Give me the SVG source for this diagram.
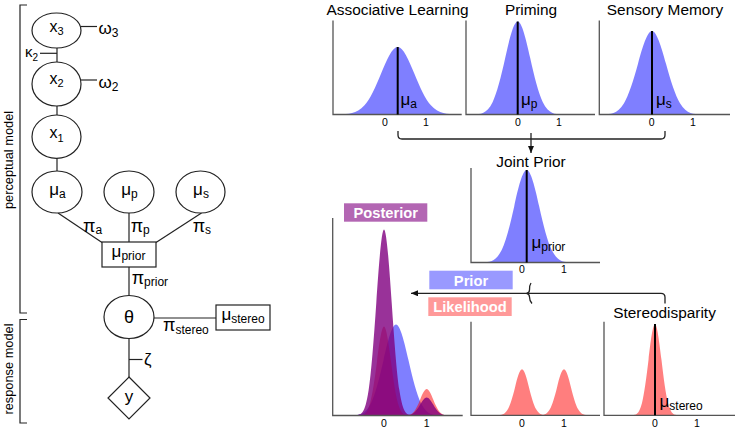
<svg xmlns="http://www.w3.org/2000/svg" width="737" height="429" viewBox="0 0 737 429">
<defs>
<style>
text{font-family:"Liberation Sans",Arial,Helvetica,sans-serif;fill:#000}
.ln{stroke:#222;stroke-width:1.2;fill:none}
.nd{fill:#fff;stroke:#222;stroke-width:1.2}
.ax{stroke:#555;stroke-width:1.3;fill:none}
.mean{stroke:#000;stroke-width:2}
.tk{font-size:10.5px;text-anchor:middle}
.ttl{font-size:15.4px;text-anchor:middle}
.lbl{font-size:14.7px;font-weight:bold;fill:#fff;text-anchor:middle}
.vt{font-size:17px}
.s{font-size:12px}
.cn{stroke:#222;stroke-width:1.3;fill:none}
.blue{fill:#0000ff}
.red{fill:#ff0000}
.pur{fill:#800080}
</style>
<path id="g" d="M-3.5,0 L-3.5,0.0022 C-3,0.006 -2.5,0 -2,0.1353 C-1.667,0.2255 -1.333,0.4043 -1,0.6065 C-0.667,0.8087 -0.333,1 0,1 C0.333,1 0.667,0.8087 1,0.6065 C1.333,0.4043 1.667,0.2255 2,0.1353 C2.5,0 3,0.006 3.5,0.0022 L3.5,0 Z"/>
<marker id="ah" viewBox="0 0 7 6" refX="7" refY="3" markerWidth="7" markerHeight="6" orient="auto" markerUnits="userSpaceOnUse"><path d="M0,0 L7,3 L0,6 Z" fill="#111"/></marker>
</defs>
<rect width="737" height="429" fill="#fff"/>

<!-- brackets -->
<g id="brackets">
<path class="ln" d="M27,5 H20 V313 H27"/>
<path class="ln" d="M27,319.5 H20 V423 H27"/>
<text transform="translate(13,160) rotate(-90)" text-anchor="middle" font-size="12.8">perceptual model</text>
<text transform="translate(13,369) rotate(-90)" text-anchor="middle" font-size="12.8">response model</text>
</g>

<!-- left graph connectors -->
<g id="connectors">
<path class="ln" d="M57,48 V62"/>
<path class="ln" d="M40,53.3 H57"/>
<path class="ln" d="M81,26.5 H97"/>
<path class="ln" d="M81,80 H97"/>
<path class="ln" d="M57,106 V115"/>
<path class="ln" d="M57,158 V171"/>
<path class="ln" d="M58,213 L102,242.5"/>
<path class="ln" d="M129,213 V242"/>
<path class="ln" d="M201.5,213 L156,242.5"/>
<path class="ln" d="M129,267 V295.5"/>
<path class="ln" d="M154,318 H216"/>
<path class="ln" d="M129,338.5 V377"/>
<path class="ln" d="M129,359.5 H142.5"/>
<text x="25" y="57.3" font-size="15">κ<tspan font-size="10" dy="4">2</tspan></text>
<text x="98.5" y="34.3" class="vt">ω<tspan class="s" dy="2.5">3</tspan></text>
<text x="98.5" y="88" class="vt">ω<tspan class="s" dy="2.5">2</tspan></text>
<text x="83" y="231.5" font-size="18">π<tspan class="s" dy="2">a</tspan></text>
<text x="130.7" y="231.5" font-size="18">π<tspan class="s" dy="2">p</tspan></text>
<text x="192.7" y="231.5" font-size="18">π<tspan class="s" dy="2">s</tspan></text>
<text x="131.7" y="284" font-size="18">π<tspan class="s" dy="2">prior</tspan></text>
<text x="163" y="330.5" font-size="18">π<tspan class="s" dy="3">stereo</tspan></text>
<text x="144" y="365" font-size="17">ζ</text>

<!-- right side connectors -->
<path class="cn" d="M398,131 V135 Q398,139 402,139 H661 Q665,139 665,135 V131"/>
<path class="cn" d="M531,133 V153" marker-end="url(#ah)"/>
<path class="cn" d="M665,303.5 V297.3 Q665,293.3 661,293.3 H411" marker-end="url(#ah)"/>
<path class="cn" d="M531,283 Q529,286 529.5,290 Q529.5,293 526.5,293.3 Q529.5,294 529.5,297 Q529.5,301 532,303.5"/>
</g>

<!-- left graph nodes -->
<g id="node-x3"><ellipse class="nd" cx="56.5" cy="30.5" rx="24.5" ry="17.5"/><text x="56.5" y="31.5" font-size="16" text-anchor="middle">x<tspan font-size="11" dy="3.5">3</tspan></text></g>
<g id="node-x2"><ellipse class="nd" cx="56.5" cy="84" rx="24.5" ry="22"/><text x="56.5" y="83.5" font-size="16" text-anchor="middle">x<tspan font-size="11" dy="3.5">2</tspan></text></g>
<g id="node-x1"><ellipse class="nd" cx="56.5" cy="136.7" rx="24.5" ry="21.7"/><text x="56.5" y="138" font-size="16" text-anchor="middle">x<tspan font-size="11" dy="3.5">1</tspan></text></g>
<g id="node-mua"><ellipse class="nd" cx="57" cy="192" rx="25" ry="21"/><text x="57.5" y="195" class="vt" text-anchor="middle">μ<tspan class="s" dy="3">a</tspan></text></g>
<g id="node-mup"><ellipse class="nd" cx="129" cy="192" rx="25" ry="21"/><text x="129.5" y="195" class="vt" text-anchor="middle">μ<tspan class="s" dy="3">p</tspan></text></g>
<g id="node-mus"><ellipse class="nd" cx="200.5" cy="192" rx="24.5" ry="21"/><text x="201" y="195" class="vt" text-anchor="middle">μ<tspan class="s" dy="3">s</tspan></text></g>
<g id="node-muprior"><rect class="nd" x="102" y="242" width="54" height="25"/><text x="128.5" y="257" class="vt" text-anchor="middle">μ<tspan class="s" dy="3">prior</tspan></text></g>
<g id="node-theta"><ellipse class="nd" cx="129" cy="317" rx="25" ry="21.5"/><text x="129" y="323.3" font-size="18" text-anchor="middle">θ</text></g>
<g id="node-mustereo"><rect class="nd" x="216" y="305" width="54" height="25"/><text x="243" y="320" class="vt" text-anchor="middle">μ<tspan class="s" dy="2.5">stereo</tspan></text></g>
<g id="node-y"><path class="nd" d="M129,377 L150,398 L129,419 L108,398 Z"/><text x="129" y="402" font-size="17" text-anchor="middle">y</text></g>

<!-- top panels -->
<g id="panel-associative">
<text class="ttl" x="397.5" y="14.5">Associative Learning</text>
<use href="#g" class="blue" opacity="0.5" transform="translate(397.7,114.5) scale(16.6,-67.5)"/>
<path class="ax" d="M333,20.5 V114.5 H461.7"/>
<line class="mean" x1="397.7" y1="47" x2="397.7" y2="114.5"/>
<text x="400.5" y="104.7" class="vt">μ<tspan class="s" dy="3">a</tspan></text>
<text class="tk" x="385" y="125.5">0</text><text class="tk" x="426" y="125.5">1</text>
</g>
<g id="panel-priming">
<text class="ttl" x="531" y="14.5">Priming</text>
<use href="#g" class="blue" opacity="0.5" transform="translate(517.7,114.5) scale(12.5,-93)"/>
<path class="ax" d="M466,20.5 V114.5 H595"/>
<line class="mean" x1="517.7" y1="21.5" x2="517.7" y2="114.5"/>
<text x="521" y="104.7" class="vt">μ<tspan class="s" dy="3">p</tspan></text>
<text class="tk" x="518" y="125.5">0</text><text class="tk" x="559" y="125.5">1</text>
</g>
<g id="panel-sensory">
<text class="ttl" x="665" y="14.5">Sensory Memory</text>
<use href="#g" class="blue" opacity="0.5" transform="translate(652,114.5) scale(14,-83.5)"/>
<path class="ax" d="M599.3,20.5 V114.5 H730"/>
<line class="mean" x1="652" y1="31" x2="652" y2="114.5"/>
<text x="656" y="104.7" class="vt">μ<tspan class="s" dy="3">s</tspan></text>
<text class="tk" x="651.7" y="125.5">0</text><text class="tk" x="693" y="125.5">1</text>
</g>

<!-- joint prior -->
<g id="panel-joint">
<text class="ttl" x="531" y="167">Joint Prior</text>
<use href="#g" class="blue" opacity="0.5" transform="translate(526.7,262.5) scale(12.5,-92.5)"/>
<path class="ax" d="M471,168 V262.5 H600"/>
<line class="mean" x1="526.7" y1="170" x2="526.7" y2="262.5"/>
<text x="531.5" y="248" class="vt">μ<tspan class="s" dy="3">prior</tspan></text>
<text class="tk" x="522" y="272.5">0</text><text class="tk" x="564" y="272.5">1</text>
</g>

<!-- posterior -->
<g id="panel-posterior">
<rect x="344" y="203.3" width="83.3" height="18.4" fill="#800080" opacity="0.6"/>
<text class="lbl" x="385.7" y="218">Posterior</text>
<use href="#g" class="blue" opacity="0.5" transform="translate(396,415.5) scale(12.5,-91)"/>
<g class="red" opacity="0.5"><use href="#g" transform="translate(384,415.5) scale(7,-89)"/><use href="#g" transform="translate(426.7,415.5) scale(6.5,-26.5)"/></g>
<g class="pur" opacity="0.8"><use href="#g" transform="translate(384,415.5) scale(7.7,-186)"/><use href="#g" transform="translate(426.7,415.5) scale(6.5,-18)"/></g>
<path class="ax" d="M332.7,218 V415.5 H462.7"/>
<text class="tk" x="384" y="426.5">0</text><text class="tk" x="426.7" y="426.5">1</text>
</g>

<!-- legend labels -->
<g id="label-prior"><rect x="429.3" y="270.7" width="83.4" height="18.6" fill="#0000ff" opacity="0.4"/><text class="lbl" x="471" y="286">Prior</text></g>
<g id="label-likelihood"><rect x="428.3" y="297.3" width="83.4" height="18.7" fill="#ff0000" opacity="0.4"/><text class="lbl" x="470" y="312.3">Likelihood</text></g>

<!-- likelihood panel -->
<g id="panel-likelihood">
<g class="red" opacity="0.5"><use href="#g" transform="translate(522,415.3) scale(7,-46)"/><use href="#g" transform="translate(564,415.3) scale(7,-46)"/></g>
<path class="ax" d="M471,321.7 V415.3 H600"/>
<text class="tk" x="522" y="426.5">0</text><text class="tk" x="564" y="426.5">1</text>
</g>

<!-- stereodisparity -->
<g id="panel-stereo">
<text class="ttl" x="664.5" y="318">Stereodisparity</text>
<use href="#g" class="red" opacity="0.5" transform="translate(655,415.3) scale(6.5,-91)"/>
<path class="ax" d="M604,321.7 V415.3 H735"/>
<line class="mean" x1="655" y1="324" x2="655" y2="415.3"/>
<text x="659.5" y="406.5" class="vt">μ<tspan class="s" dy="3">stereo</tspan></text>
<text class="tk" x="655" y="426.5">0</text><text class="tk" x="697" y="426.5">1</text>
</g>
</svg>
